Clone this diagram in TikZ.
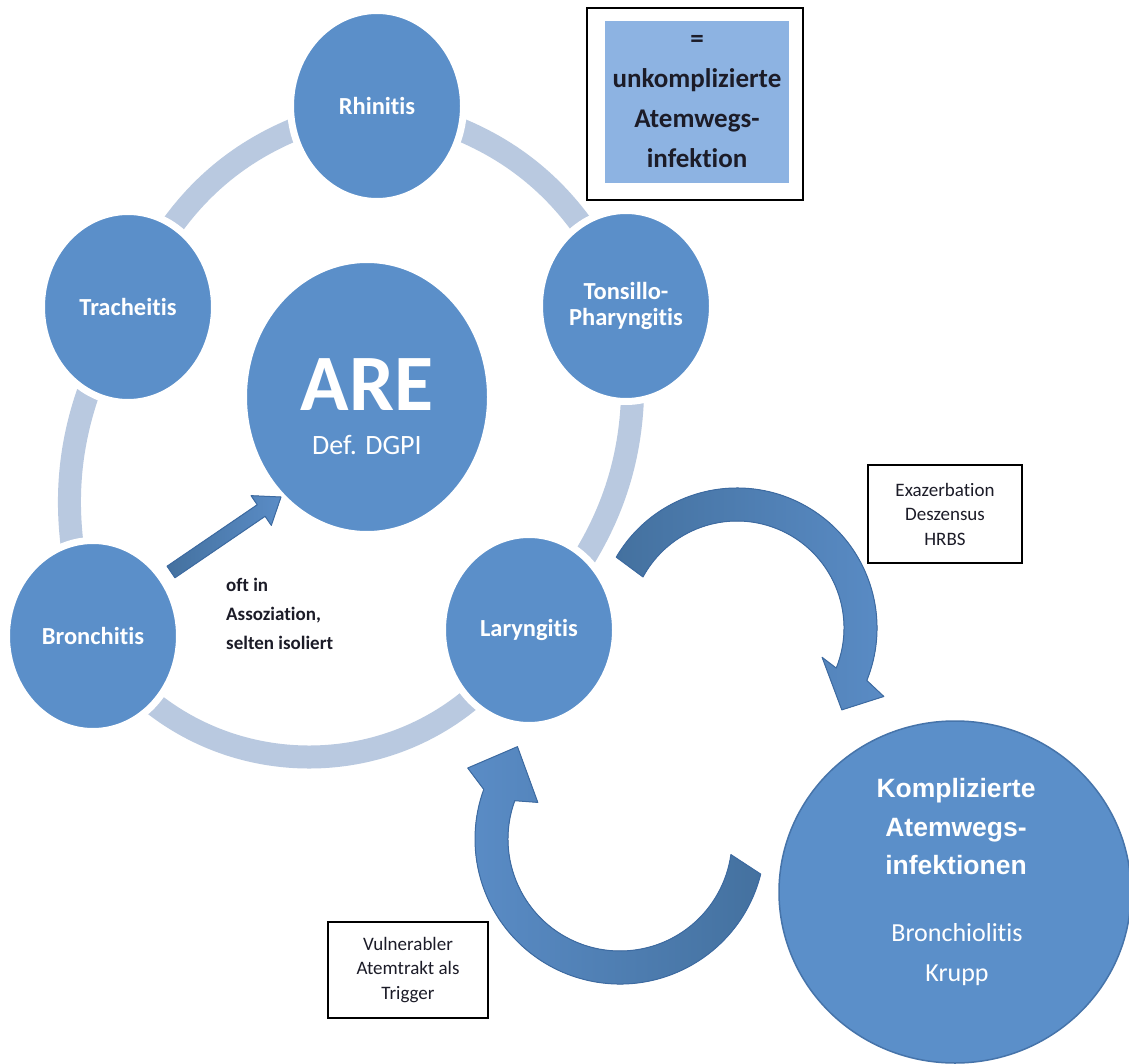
\documentclass[tikz,border=0pt]{standalone}
\usepackage{fontspec}
\setmainfont{Carlito}[Ligatures={NoCommon}]
\newfontfamily\arialf{Liberation Sans}[Ligatures={NoCommon}]
\usetikzlibrary{shapes.geometric,calc}
\pgfdeclarelayer{bg}
\pgfsetlayers{bg,main}
\definecolor{circfill}{HTML}{5B8FC9}
\definecolor{circdark}{HTML}{4674AA}
\definecolor{ringcol}{HTML}{B9C9E0}
\definecolor{arrfill}{HTML}{5A8CC6}
\definecolor{arrshade}{HTML}{44719F}
\definecolor{arrdark}{HTML}{3D6BA2}
\definecolor{boxblue}{HTML}{8DB3E2}
\definecolor{darktext}{HTML}{1C1C28}
\begin{document}
\begin{tikzpicture}[x=1pt,y=-1pt,
  smallc/.style={ellipse, fill=circfill, draw=white, line width=7pt, inner sep=0pt,
    minimum width=173pt, minimum height=191pt, text=white, align=center,
    font=\bfseries\fontsize{24.5}{26}\selectfont},
  ringseg/.style={draw=ringcol, line width=23pt},
  bigarrow/.style={draw=arrdark, line width=1pt, line join=round},
  textbox/.style={draw=black, line width=1.2pt, fill=white, align=center, text=darktext,
    font=\fontsize{19}{24.5}\selectfont, inner sep=0pt}]
\useasboundingbox (0,0) rectangle (1129,1064);

% small circles
\node[smallc] (rhin) at (377,106) {Rhinitis};
\node[smallc] (tons) at (626,306) {Tonsillo-\\Pharyngitis};
\node[smallc] (lar) at (529,630) {Laryngitis};
\node[smallc] (bron) at (93,636) {Bronchitis};
\node[smallc] (trach) at (128,307) {Tracheitis};

% ring segments
\begin{pgfonlayer}{bg}
\fill[white] (0,0) rectangle (1129,1064);
\draw[ringseg] (trach.center) to[bend left=29] (rhin.center);
\draw[ringseg] (rhin.center) to[bend left=29] (tons.center);
\draw[ringseg] (tons.center) to[bend left=26] (lar.center);
\draw[ringseg] (lar.center) to[bend left=59, looseness=1.13] (bron.center);
\draw[ringseg] (bron.center) to[bend left=24] (trach.center);
\end{pgfonlayer}

% central circle
\node[ellipse, fill=circfill, draw=white, line width=7pt, inner sep=0pt,
  minimum width=247pt, minimum height=275pt] (are) at (367,397) {};
\node[anchor=base, text=white, font=\bfseries\fontsize{80}{80}\selectfont, inner sep=0pt] (aret) at (367,410) {ARE};
\node[anchor=base, text=white, font=\fontsize{28}{30}\selectfont, inner sep=0pt] (ared) at (367,454) {Def. DGPI};

% straight arrow Bronchitis -> ARE
\coordinate (sa) at (171,572);
\coordinate (sb) at (281,497);
\coordinate (sh) at ($(sb)!24pt!(sa)$);
\filldraw[bigarrow, left color=arrshade, right color=arrfill] ($(sa)!7pt!90:(sb)$) -- ($(sh)!7pt!90:(sb)$) -- ($(sh)!18pt!90:(sb)$)
  -- (sb) -- ($(sh)!18pt!-90:(sb)$) -- ($(sh)!7pt!-90:(sb)$) -- ($(sa)!7pt!-90:(sb)$) -- cycle;

\node[anchor=west, align=left, text=darktext, font=\bfseries\fontsize{19}{29}\selectfont, inner sep=0pt]
  (oft) at (226,614) {oft in\\Assoziation,\\selten isoliert};

% complicated infections
\node[ellipse, fill=circfill, draw=circdark, line width=1.5pt, inner sep=0pt,
  minimum width=352pt, minimum height=342pt] (komp) at (955,892) {};
\node[text=white, align=center, font=\arialf\bfseries\fontsize{26.5}{38.5}\selectfont, inner sep=0pt]
  (kompt) at (956,827) {Komplizierte\\Atemwegs-\\infektionen};
\node[text=white, align=center, font=\fontsize{26}{40}\selectfont, inner sep=0pt]
  (kompd) at (957,955) {Bronchiolitis\\Krupp};

% curved arrow Laryngitis -> Komplizierte
\coordinate (c1) at (737,628);
\filldraw[bigarrow, left color=arrshade, right color=arrfill] ($(c1)+(210.4:140)$) arc[start angle=210.4, end angle=382, radius=140]
  -- ($(c1)+(25:162)$) -- ($(c1)+(38:133)$) -- ($(c1)+(19:90)$) -- ($(c1)+(22:107)$)
  arc[start angle=382, end angle=208.5, radius=107] -- cycle;

% curved arrow Komplizierte -> Laryngitis
\coordinate (c2) at (620,839);
\filldraw[bigarrow, left color=arrfill, right color=arrshade] ($(c2)+(14:145)$) arc[start angle=14, end angle=200, radius=145]
  -- ($(c2)+(205:168)$) -- ($(c2)+(222:138)$) -- ($(c2)+(204:90)$) -- ($(c2)+(200:112)$)
  arc[start angle=200, end angle=8, radius=112] -- cycle;

% text boxes
\node[textbox, minimum width=154pt, minimum height=98pt] (exa) at (945,514) {Exazerbation\\Deszensus\\HRBS};
\node[textbox, minimum width=160pt, minimum height=96pt] (vul) at (408,970) {Vulnerabler\\Atemtrakt als\\Trigger};

% legend box
\node[draw=black, line width=2.5pt, fill=white, minimum width=216pt, minimum height=192pt, inner sep=0pt] (leg) at (695,104) {};
\node[fill=boxblue, minimum width=184pt, minimum height=162pt, inner sep=0pt, align=center, text=darktext,
  font=\bfseries\fontsize{27}{40}\selectfont] (legin) at (697,102) {=\\unkomplizierte\\Atemwegs-\\infektion};
\end{tikzpicture}
\end{document}
